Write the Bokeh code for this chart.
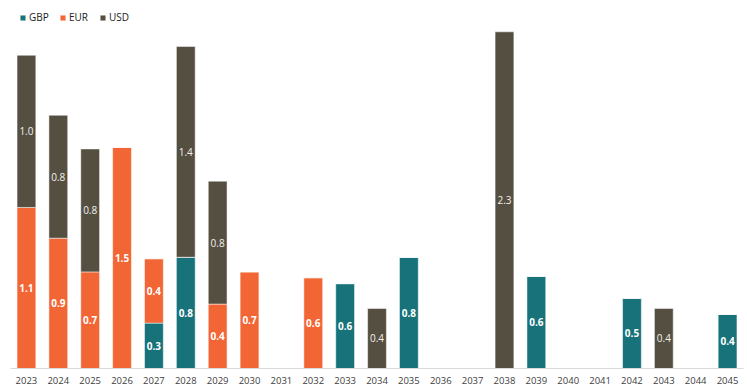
from bokeh.plotting import figure
from bokeh.models import ColumnDataSource, Legend, LegendItem, Range1d, FactorRange
from bokeh.core.properties import value
from bokeh.embed import file_html
from bokeh.resources import INLINE

years = ["2023", "2024", "2025", "2026", "2027", "2028", "2029", "2030", "2031", "2032",
         "2033", "2034", "2035", "2036", "2037", "2038", "2039", "2040", "2041", "2042",
         "2043", "2044", "2045"]
gbp = [0, 0, 0, 0, 0.31, 0.76, 0, 0, 0, 0, 0.58, 0, 0.76, 0, 0, 0, 0.63, 0, 0, 0.48, 0, 0, 0.37]
eur = [1.10, 0.89, 0.66, 1.51, 0.44, 0, 0.44, 0.66, 0, 0.62, 0, 0, 0, 0, 0, 0, 0, 0, 0, 0, 0, 0, 0]
usd = [1.04, 0.84, 0.84, 0, 0, 1.44, 0.84, 0, 0, 0, 0, 0.41, 0, 0, 0, 2.30, 0, 0, 0, 0, 0.41, 0, 0]

series = ["GBP", "EUR", "USD"]
colors = ["#17727A", "#F26534", "#554F42"]

src = ColumnDataSource(dict(year=years, GBP=gbp, EUR=eur, USD=usd))

p = figure(x_range=FactorRange(*years), y_range=Range1d(0, 2.514),
           width=747, height=391, output_backend="svg", toolbar_location=None,
           min_border_left=10, min_border_right=4, min_border_top=0, min_border_bottom=23)
p.outline_line_color = None
p.background_fill_color = "white"
p.border_fill_color = "white"

rs = p.vbar_stack(series, x="year", width=0.59, color=colors, source=src,
                  line_color="white", line_alpha=0.5, line_width=1)

# labels
lx, ly, lt = [], [], []
ux, uy, ut = [], [], []
for i, yr in enumerate(years):
    base = 0.0
    for name, vals in zip(series, [gbp, eur, usd]):
        v = vals[i]
        if v > 0:
            if name == "USD":
                ux.append(yr); uy.append(base + v / 2); ut.append(f"{v:.1f}")
            else:
                lx.append(yr); ly.append(base + v / 2); lt.append(f"{v:.1f}")
        base += v

p.text(x=lx, y=ly, text=lt, text_color="white", text_font=value("Open Sans"),
       text_font_size="10px", text_font_style="bold", text_align="center", text_baseline="middle")
p.text(x=ux, y=uy, text=ut, text_color="#F4F1EA", text_font=value("Open Sans"),
       text_font_size="10px", text_align="center", text_baseline="middle")

p.yaxis.visible = False
p.xgrid.visible = False
p.ygrid.visible = False
p.xaxis.axis_line_color = "#D9D9D9"
p.xaxis.axis_line_width = 1
p.xaxis.major_tick_line_color = None
p.xaxis.minor_tick_line_color = None
p.xaxis.major_label_text_font = "Open Sans"
p.xaxis.major_label_text_font_size = "9.5px"
p.xaxis.major_label_text_color = "#404040"
p.xaxis.major_label_standoff = 2

legend = Legend(items=[LegendItem(label=s, renderers=[r]) for s, r in zip(series, rs)],
                orientation="horizontal", location=(9, 344),
                glyph_width=7, glyph_height=7, label_height=10, label_standoff=3,
                spacing=10, padding=0, margin=0,
                label_text_font="Open Sans", label_text_font_size="10px",
                label_text_color="#1a1a1a", border_line_color=None,
                background_fill_alpha=0)
p.add_layout(legend)

open("out.html", "w").write(file_html(p, INLINE))
